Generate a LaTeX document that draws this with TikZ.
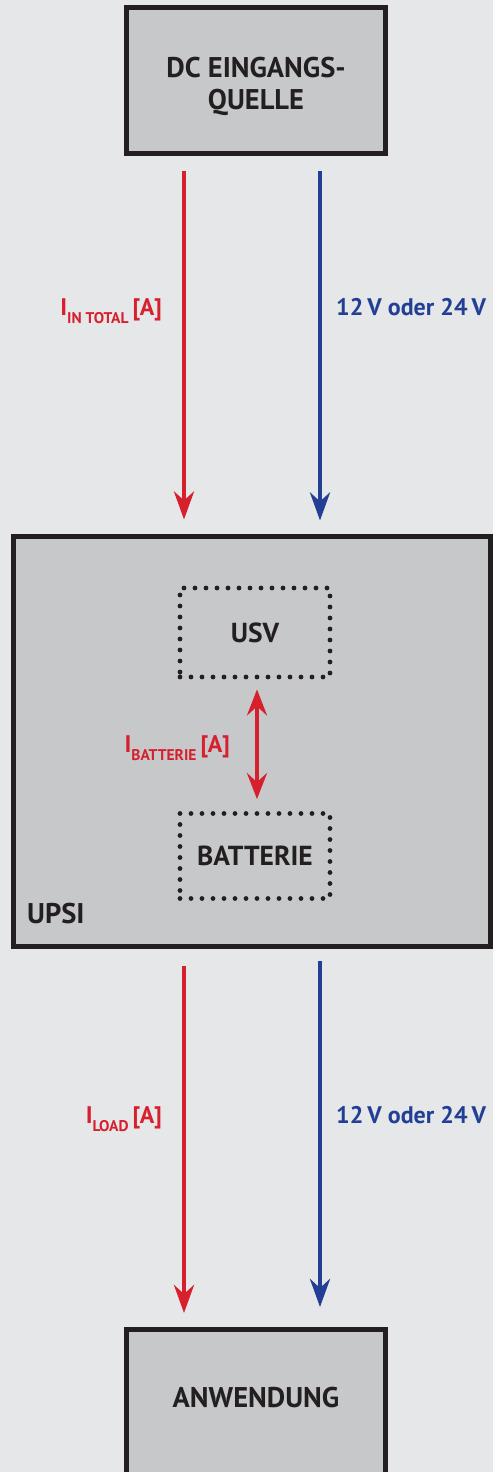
\documentclass[tikz,border=0pt]{standalone}
\usepackage{fontspec}
\setmainfont{PT Sans}
\usetikzlibrary{arrows.meta, positioning, calc}
\definecolor{cbg}{HTML}{E6E7E8}
\definecolor{cbox}{HTML}{C7C8CA}
\definecolor{cdark}{HTML}{231F20}
\definecolor{cred}{HTML}{D7202E}
\definecolor{cblue}{HTML}{223F95}
\tikzset{
  every picture/.style={font=\bfseries},
  box/.style={draw=cdark, fill=cbox, line width=5pt, align=center, inner sep=0pt,
    text=cdark, font=\fontsize{28.5}{32}\selectfont\bfseries},
  boxtext/.style={box, draw=none, fill=none},
  dotbox/.style={draw=cdark, line width=4.8pt, dash pattern=on 0pt off 11pt, line cap=round,
    inner sep=0pt, text=cdark, font=\fontsize{27.5}{30}\selectfont\bfseries},
  arrow/.style={-{Stealth[length=28pt, width=20pt, inset=9pt]}, line width=4.5pt, draw=#1},
  arrow/.default=cred,
  lbl/.style={font=\fontsize{24}{28}\selectfont\bfseries, text=#1, inner sep=0pt},
  lbl/.default=cred,
}
\newcommand{\subtxt}[1]{\raisebox{-8pt}{\fontsize{15.5}{15.5}\selectfont #1}}

\begin{document}
\begin{tikzpicture}[x=1pt, y=-1pt]
  \fill[cbg] (0,0) rectangle (493,1472);
  \useasboundingbox (0,0) rectangle (493,1472);
  % source and UPSI
  \node[box, minimum width=259pt, minimum height=146pt] (src) at (256,80.5) {};
  \node[boxtext] (srctxt) at (256,86) {DC EINGANGS-\\QUELLE};
  \node[box, minimum width=477pt, minimum height=410pt] (upsi) at (252,741.5) {};
  \node[dotbox, minimum width=150pt, minimum height=89pt] (usv) at (255,632.5) {USV};
  \node[dotbox, minimum width=150pt, minimum height=85pt] (batt) at (255,856) {BATTERIE};
  \node[lbl=cdark, font=\fontsize{28.5}{30}\selectfont\bfseries, anchor=base west] (upsilbl) at (27,923) {UPSI};
  % application, cut by the page edge
  \node[box, anchor=north, minimum width=259pt, minimum height=190pt] (app) at (256,1326.5) {};
  \node[boxtext] (apptxt) at (256,1398) {ANWENDUNG};
  % input side
  \draw[arrow] ([shift={(-72,14.5)}]src.south) -- ([shift={(-68,-14.5)}]upsi.north);
  \draw[arrow=cblue] ([shift={(64,14.5)}]src.south) -- ([shift={(68,-13.5)}]upsi.north);
  \node[lbl, anchor=base east] (iin) at (162,315) {I\subtxt{IN TOTAL}\,[A]};
  \node[lbl=cblue, anchor=base west] (vin) at (336,315) {12\,V oder 24\,V};
  % battery current
  \draw[arrow, {Stealth[length=26pt, width=20pt, inset=9pt]}-{Stealth[length=26pt, width=20pt, inset=9pt]}]
    ([shift={(2,10)}]usv.south) -- ([shift={(2,-12)}]batt.north);
  \node[lbl, anchor=base east] (ibat) at (230,752) {I\subtxt{BATTERIE}\,[A]};
  % output side
  \draw[arrow] ([shift={(-68,16.5)}]upsi.south) -- ([shift={(-72,-13.5)}]app.north);
  \draw[arrow=cblue] ([shift={(68,11.5)}]upsi.south) -- ([shift={(64,-19.5)}]app.north);
  \node[lbl, anchor=base east] (iload) at (162,1123) {I\subtxt{LOAD}\,[A]};
  \node[lbl=cblue, anchor=base west] (vout) at (336,1123) {12\,V oder 24\,V};
\end{tikzpicture}
\end{document}
